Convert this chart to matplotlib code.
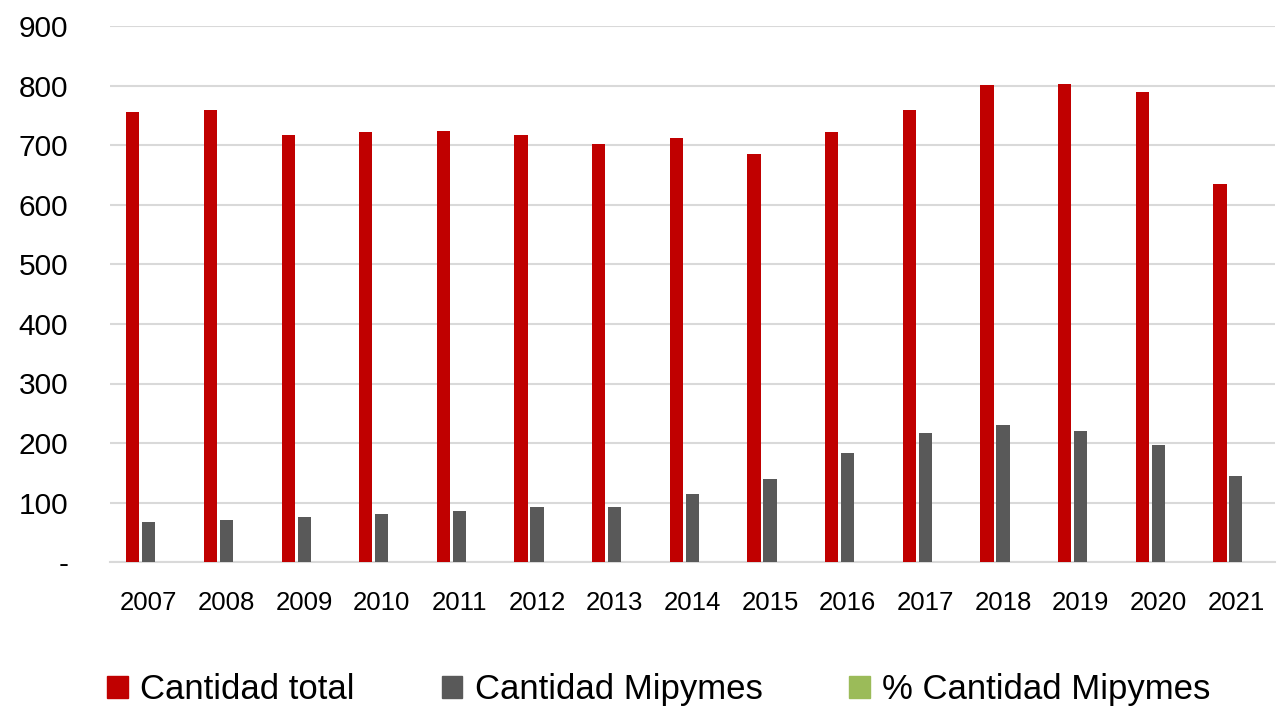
import numpy as np
import matplotlib
matplotlib.use("Agg")
import matplotlib.pyplot as plt
from matplotlib.patches import Patch

plt.rcParams['font.family'] = ['Liberation Sans', 'DejaVu Sans']

years = ['2007', '2008', '2009', '2010', '2011', '2012', '2013', '2014',
         '2015', '2016', '2017', '2018', '2019', '2020', '2021']
cantidad_total = [757, 759, 717, 723, 725, 717, 702, 712,
                  685, 723, 760, 801, 804, 790, 636]
cantidad_mipymes = [67, 71, 76, 81, 86, 93, 93, 115,
                    139, 184, 216, 231, 221, 196, 145]
series_names = ['Cantidad total', 'Cantidad Mipymes', '% Cantidad Mipymes']
colors = ['#C00000', '#595959', '#9BBB59']

fig = plt.figure(figsize=(12.85, 7.08), dpi=100)
ax = fig.add_axes([0.0856, 0.2062, 0.9064, 0.7564])

x = np.arange(len(years))
w = 0.17
ax.bar(x - 0.206, cantidad_total, width=w, color=colors[0], zorder=3)
ax.bar(x, cantidad_mipymes, width=w, color=colors[1], zorder=3)

ax.set_xlim(-0.5, len(years) - 0.5)
ax.set_ylim(0, 900)
ax.set_yticks(range(0, 901, 100))
ax.set_yticklabels(['-'] + [str(v) for v in range(100, 901, 100)], fontsize=21.5)
ax.set_xticks(x)
ax.set_xticklabels(years, fontsize=18.5)
ax.tick_params(axis='both', length=0, colors='black')
ax.tick_params(axis='y', pad=30)
ax.tick_params(axis='x', pad=21)

ax.grid(axis='y', color='#d9d9d9', linewidth=1.5, zorder=0)
for s in ['top', 'right', 'left']:
    ax.spines[s].set_visible(False)
ax.spines['bottom'].set_color('#d9d9d9')
ax.spines['bottom'].set_linewidth(1.5)

handles = [Patch(color=c) for c in colors]
fig.legend(handles, series_names, loc='center', bbox_to_anchor=(0.5128, 0.0255),
           ncol=3, frameon=False, fontsize=25, handlelength=0.6, handleheight=0.6,
           handletextpad=0.35, columnspacing=2.5)

fig.savefig('out.png', dpi=100)
